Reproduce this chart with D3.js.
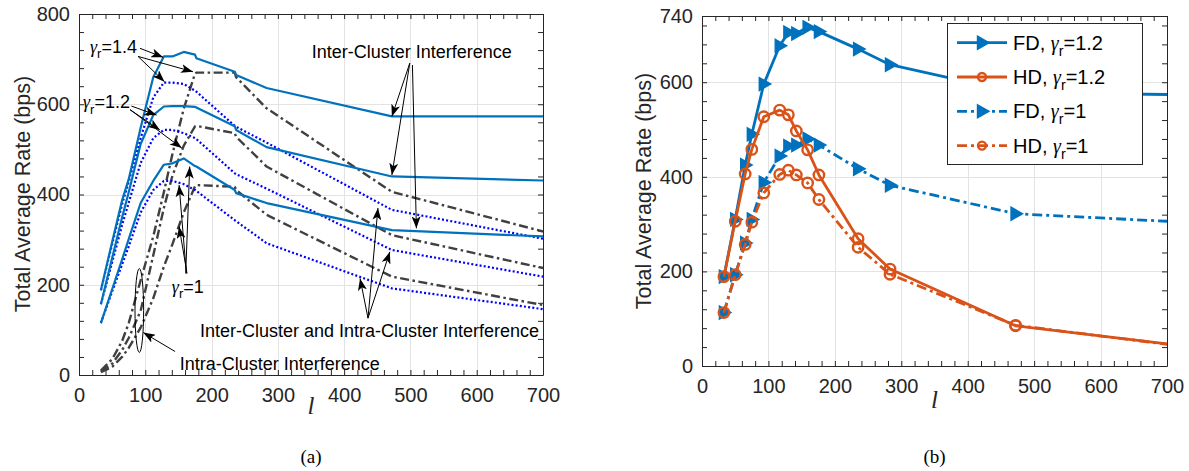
<!DOCTYPE html>
<html>
<head>
<meta charset="utf-8">
<script src="https://cdn.jsdelivr.net/npm/d3@7/dist/d3.min.js"></script>
<style>
  html,body{margin:0;padding:0;background:#fff;}
  svg{display:block;}
</style>
</head>
<body>
<svg id="chart" width="1189" height="471"></svg>
<script>
// ---------------- Panel (a) data ----------------
const lA      = [33, 50, 65, 75, 93, 112, 128, 141, 158, 175, 177, 235, 237, 283, 472, 700];
const inter14 = [188, 295, 387, 434, 548, 660, 706, 706, 716, 710, 702, 672, 665, 636, 573, 573];
const inter12 = [157, 259, 349, 405, 512, 576, 595, 596, 596, 594, 593, 551, 543, 505, 440, 431];
const inter10 = [115, 190, 256, 301, 381, 430, 466, 469, 480, 463, 462, 410, 403, 381, 321, 307];
const both14  = [188, 290, 378, 428, 525, 615, 648, 648, 645, 630, 628, 552, 550, 515, 366, 302];
const both12  = [157, 250, 332, 382, 470, 525, 543, 543, 536, 525, 523, 447, 445, 413, 277, 218];
const both10  = [115, 185, 245, 285, 360, 410, 430, 430, 423, 410, 408, 343, 341, 292, 192, 146];
const intra14 = [10, 35, 75, 115, 210, 307, 405, 490, 590, 668, 670, 670, 660, 591, 406, 318];
const intra12 = [8, 25, 55, 82, 142, 265, 370, 442, 508, 551, 552, 536, 528, 462, 310, 237];
const intra10 = [6, 18, 40, 60, 105, 170, 240, 290, 360, 418, 421, 417, 410, 355, 218, 155];

// ---------------- Panel (b) data ----------------
const lB   = [33, 50, 65, 75, 93, 117, 130, 142, 159, 176, 235, 283, 472, 700];
const fd12 = [189, 310, 425, 490, 596, 677, 705, 703, 716, 707, 670, 637, 578, 574];
const hd12 = [189, 306, 406, 458, 527, 541, 531, 497, 457, 404, 269, 205, 85, 47];
const fd10 = [113, 193, 260, 310, 388, 444, 465, 467, 480, 467, 417, 382, 322, 306];
const hd10 = [113, 193, 257, 304, 366, 405, 414, 404, 387, 352, 251, 194, 86, 46];

// ---------------- Ticks / labels ----------------
const xTickLabels  = [0, 100, 200, 300, 400, 500, 600, 700];
const yTickLabelsA = [0, 200, 400, 600, 800];
const yTickLabelsB = [0, 200, 400, 600, 740];
const legendNames  = ["FD", "HD", "FD", "HD"];
const legendGammas = ["1.2", "1.2", "1", "1"];
const yTitle = "Total Average Rate (bps)";

// ---------------- Styles ----------------
const FONT  = '"Liberation Sans", Arial, Helvetica, sans-serif';
const SERIF = '"Liberation Serif", "Times New Roman", serif';
const AX = "#262626";
const BLUE = "#0072BD", ORANGE = "#D95319", DBLUE = "#0000FF", GREY = "#404040";
const GRID = "#e3e3e3";

const svg = d3.select("#chart");

// arrowhead marker
svg.append("defs").append("marker")
  .attr("id", "ah").attr("markerUnits", "userSpaceOnUse")
  .attr("viewBox", "0 0 12 9").attr("markerWidth", 12).attr("markerHeight", 9)
  .attr("refX", 12).attr("refY", 4.5).attr("orient", "auto")
  .append("path").attr("d", "M0,0 L12,4.5 L0,9 L3,4.5 Z").attr("fill", "#000");

function frame(g, x, y, xMax, yMax, yLabels, yMinorStep) {
  const [xa, xb] = x.range();
  const [ya, yb] = y.range();
  // grid
  g.append("g").selectAll("line").data(xTickLabels.filter(d => d > 0 && d < xMax)).join("line")
    .attr("x1", d => Math.round(x(d)) + 0.5).attr("x2", d => Math.round(x(d)) + 0.5)
    .attr("y1", ya).attr("y2", yb).attr("stroke", GRID).attr("stroke-width", 1);
  g.append("g").selectAll("line").data(yLabels.filter(d => d > 0 && d < yMax)).join("line")
    .attr("y1", d => Math.round(y(d)) + 0.5).attr("y2", d => Math.round(y(d)) + 0.5)
    .attr("x1", xa).attr("x2", xb).attr("stroke", GRID).attr("stroke-width", 1);

  const xAll = d3.range(0, xMax + 1, 20);
  const yAll = d3.range(0, yMax + 1, yMinorStep);
  if (!yAll.includes(yMax)) yAll.push(yMax);

  const styleAxis = a => {
    a.selectAll("path.domain").attr("stroke", AX).attr("stroke-width", 1);
    a.selectAll(".tick line").attr("stroke", AX).attr("stroke-width", 1);
    a.selectAll(".tick text").attr("fill", AX).attr("font-family", FONT).attr("font-size", 20);
    a.attr("font-family", FONT);
  };
  g.append("g").attr("transform", `translate(0,${ya})`)
    .call(d3.axisBottom(x).tickValues(xAll).tickSizeInner(-5).tickSizeOuter(0).tickPadding(13)
      .tickFormat(d => xTickLabels.includes(d) ? d : ""))
    .call(styleAxis);
  g.append("g").attr("transform", `translate(0,${yb})`)
    .call(d3.axisTop(x).tickValues(xAll).tickSizeInner(-5).tickSizeOuter(0).tickFormat(""))
    .call(styleAxis);
  g.append("g").attr("transform", `translate(${xa},0)`)
    .call(d3.axisLeft(y).tickValues(yAll).tickSizeInner(-5).tickSizeOuter(0).tickPadding(9)
      .tickFormat(d => yLabels.includes(d) ? d : ""))
    .call(styleAxis);
  g.append("g").attr("transform", `translate(${xb},0)`)
    .call(d3.axisRight(y).tickValues(yAll).tickSizeInner(-5).tickSizeOuter(0).tickFormat(""))
    .call(styleAxis);
}

function gammaText(g, px, py, pre, val, size) {
  const t = g.append("text").attr("x", px).attr("y", py)
    .attr("font-family", FONT).attr("font-size", size).attr("fill", "#000");
  if (pre) t.append("tspan").text(pre);
  t.append("tspan").attr("font-family", SERIF).attr("font-style", "italic").text("\u03B3");
  t.append("tspan").attr("font-size", size * 0.72).attr("dy", size * 0.3).text("r");
  t.append("tspan").attr("dy", -size * 0.3).text("=" + val);
  return t;
}

// ================= Panel (a) =================
const xA = d3.scaleLinear().domain([0, 700]).range([79, 543]);
const yA = d3.scaleLinear().domain([0, 800]).range([375, 14]);
const gA = svg.append("g");
frame(gA, xA, yA, 700, 800, yTickLabelsA, 40);

const lineA = d3.line().x((d, i) => xA(lA[i])).y(d => yA(d));
const seriesA = [
  {v: intra14, c: GREY, w: 2.4, dash: "9,3.5,2.5,3.5"},
  {v: intra12, c: GREY, w: 2.4, dash: "9,3.5,2.5,3.5"},
  {v: intra10, c: GREY, w: 2.4, dash: "9,3.5,2.5,3.5"},
  {v: both14,  c: DBLUE, w: 2.2, dash: "2,2.2"},
  {v: both12,  c: DBLUE, w: 2.2, dash: "2,2.2"},
  {v: both10,  c: DBLUE, w: 2.2, dash: "2,2.2"},
  {v: inter14, c: BLUE, w: 2.2, dash: null},
  {v: inter12, c: BLUE, w: 2.2, dash: null},
  {v: inter10, c: BLUE, w: 2.2, dash: null}
];
gA.append("g").selectAll("path").data(seriesA).join("path")
  .attr("d", d => lineA(d.v)).attr("fill", "none")
  .attr("stroke", d => d.c).attr("stroke-width", d => d.w)
  .attr("stroke-dasharray", d => d.dash).attr("stroke-linejoin", "round");

// annotations (data coordinates of panel a)
const arrowsA = [
  [[92, 724], [127, 704]], [[89, 706], [129, 650]], [[89, 706], [172, 672]],
  [[79, 596], [117, 576]], [[77, 588], [122, 543]], [[77, 588], [155, 503]],
  [[161, 225], [167, 462]], [[162, 225], [151, 421]], [[163, 225], [151, 329]],
  [[499, 691], [472, 573]], [[499, 691], [472, 443]], [[503, 687], [509, 325]],
  [[436, 126], [451, 370]], [[436, 126], [469, 273]], [[436, 126], [424, 214]],
  [[145, 52], [97, 94]]
];
gA.append("g").selectAll("line").data(arrowsA).join("line")
  .attr("x1", d => xA(d[0][0])).attr("y1", d => yA(d[0][1]))
  .attr("x2", d => xA(d[1][0])).attr("y2", d => yA(d[1][1]))
  .attr("stroke", "#000").attr("stroke-width", 1).attr("marker-end", "url(#ah)");

gA.append("ellipse")
  .attr("cx", xA(91)).attr("cy", yA(143))
  .attr("rx", xA(97.5) - xA(91)).attr("ry", yA(50) - yA(143))
  .attr("fill", "none").attr("stroke", "#000").attr("stroke-width", 1);

gammaText(gA, xA(16.6), yA(714), "", "1.4", 18);
gammaText(gA, xA(6), yA(591), "", "1.2", 18);
gammaText(gA, xA(140), yA(182), "", "1", 18);
const plainA = [
  {t: "Inter-Cluster Interference", l: 351, v: 702},
  {t: "Inter-Cluster and Intra-Cluster Interference", l: 182.5, v: 85},
  {t: "Intra-Cluster Interference", l: 152, v: 11}
];
gA.append("g").selectAll("text").data(plainA).join("text")
  .attr("x", d => xA(d.l)).attr("y", d => yA(d.v))
  .attr("font-family", FONT).attr("font-size", 18).attr("fill", "#000").text(d => d.t);

// ================= Panel (b) =================
const xB = d3.scaleLinear().domain([0, 700]).range([702, 1167]);
const yB = d3.scaleLinear().domain([0, 740]).range([366, 16]);
const gB = svg.append("g");
frame(gB, xB, yB, 700, 740, yTickLabelsB, 40);

const lineB = d3.line().x((d, i) => xB(lB[i])).y(d => yB(d));
const DD = "10,4,3,4";
const seriesB = [
  {v: fd10, c: BLUE, dash: DD, m: "tri"},
  {v: hd10, c: ORANGE, dash: DD, m: "circ"},
  {v: fd12, c: BLUE, dash: null, m: "tri"},
  {v: hd12, c: ORANGE, dash: null, m: "circ"}
];
const triPath = "M-4.5,-6.5 L7,0 L-4.5,6.5 Z";
seriesB.forEach(s => {
  gB.append("path").attr("d", lineB(s.v)).attr("fill", "none")
    .attr("stroke", s.c).attr("stroke-width", 2.8).attr("stroke-dasharray", s.dash)
    .attr("stroke-linejoin", "round");
  const pts = s.v.map((v, i) => ({l: lB[i], v})).filter(p => p.l < 700);
  const mg = gB.append("g");
  if (s.m === "tri") {
    mg.selectAll("path").data(pts).join("path")
      .attr("transform", p => `translate(${xB(p.l)},${yB(p.v)})`)
      .attr("d", triPath).attr("fill", s.c).attr("stroke", s.c).attr("stroke-width", 1.4);
  } else {
    mg.selectAll("circle").data(pts).join("circle")
      .attr("cx", p => xB(p.l)).attr("cy", p => yB(p.v)).attr("r", 5.2)
      .attr("fill", "none").attr("stroke", s.c).attr("stroke-width", 2.4);
  }
});

// legend
const lg = gB.append("g");
lg.append("rect").attr("x", 947.5).attr("y", 23.5).attr("width", 195).attr("height", 141)
  .attr("fill", "#fff").attr("stroke", AX).attr("stroke-width", 1);
const legendStyles = [
  {c: BLUE, dash: null, m: "tri"}, {c: ORANGE, dash: null, m: "circ"},
  {c: BLUE, dash: DD, m: "tri"}, {c: ORANGE, dash: DD, m: "circ"}
];
legendNames.forEach((n, i) => {
  const yy = 42.7 + i * 34.3;
  const st = legendStyles[i];
  lg.append("line").attr("x1", 957).attr("x2", 1007).attr("y1", yy).attr("y2", yy)
    .attr("stroke", st.c).attr("stroke-width", 2.8).attr("stroke-dasharray", st.dash);
  if (st.m === "tri") {
    lg.append("path").attr("transform", `translate(982,${yy})`).attr("d", triPath)
      .attr("fill", st.c).attr("stroke", st.c).attr("stroke-width", 1.4);
  } else {
    lg.append("circle").attr("cx", 982).attr("cy", yy).attr("r", 4)
      .attr("fill", "none").attr("stroke", st.c).attr("stroke-width", 2.4);
  }
  gammaText(lg, 1013, yy + 7, n + ", ", legendGammas[i], 20);
});

// ================= Titles =================
[[22, 194], [643, 191]].forEach(([cx, cy]) => {
  svg.append("text").attr("transform", `translate(${cx},${cy}) rotate(-90)`)
    .attr("text-anchor", "middle").attr("dy", "0.35em")
    .attr("font-family", FONT).attr("font-size", 21.5).attr("fill", AX).text(yTitle);
});
[[311, 414], [934.5, 408]].forEach(([cx, by]) => {
  svg.append("text").attr("x", cx).attr("y", by).attr("text-anchor", "middle")
    .attr("font-family", SERIF).attr("font-style", "italic").attr("font-size", 25)
    .attr("fill", AX).text("l");
});
[[311, "(a)"], [934.5, "(b)"]].forEach(([cx, t]) => {
  svg.append("text").attr("x", cx).attr("y", 463).attr("text-anchor", "middle")
    .attr("font-family", SERIF).attr("font-size", 19).attr("fill", "#000").text(t);
});
</script>
</body>
</html>
